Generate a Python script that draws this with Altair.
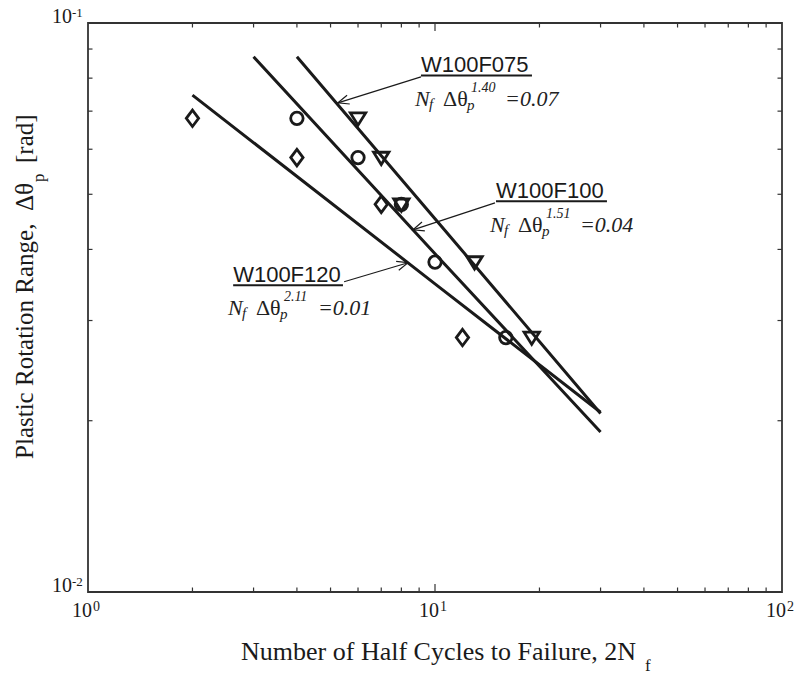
import altair as alt
import pandas as pd

# ---------------- data ----------------
specimens = ["W100F120", "W100F100", "W100F075"]

# test points (half cycles, plastic rotation range)
f120_x = [2, 4, 7, 12]
f120_y = [0.068, 0.058, 0.048, 0.028]
f100_x = [4, 6, 8, 10, 16]
f100_y = [0.068, 0.058, 0.048, 0.038, 0.028]
f075_x = [6, 7, 8, 13, 19]
f075_y = [0.068, 0.058, 0.048, 0.038, 0.028]

# fitted lines (read at their ends and middle)
fit120_x = [2, 10, 30]
fit120_y = [0.0747, 0.0348, 0.0207]
fit100_x = [3, 10, 30]
fit100_y = [0.0872, 0.0393, 0.0191]
fit075_x = [4, 10, 30]
fit075_y = [0.0872, 0.0453, 0.0206]

exponents = ["2.11", "1.51", "1.40"]
constants = ["=0.01", "=0.04", "=0.07"]

# annotation anchors in data coordinates
label_x = [2.62, 14.99, 9.11]
label_y = [0.0351, 0.0493, 0.0820]
underline_x2 = [5.43, 31.3, 19.03]
underline_y = [0.0346, 0.0486, 0.0809]
formula_x = [2.53, 14.4, 8.76]
formula_y = [0.0307, 0.0429, 0.0715]
arrow_tail_x = [5.47, 14.89, 9.11]
arrow_tail_y = [0.0351, 0.0483, 0.0804]
arrow_tip_x = [8.36, 8.64, 5.25]
arrow_tip_y = [0.0379, 0.0433, 0.0724]
arrow_angle = [163.5, 342, 343]

# ticks and tick labels
x_minor = [2, 3, 4, 5, 6, 7, 8, 9, 20, 30, 40, 50, 60, 70, 80, 90]
x_major = [10]
y_minor = [0.02, 0.03, 0.04, 0.05, 0.06, 0.07, 0.08, 0.09]
x_label_vals = [1, 10, 100]
x_label_exp = ["0", "1", "2"]
y_label_vals = [0.1, 0.01]
y_label_exp = ["-1", "-2"]

# ---------------- styling ----------------
W, H = 694, 569
SERIF = "Liberation Serif"
SANS = "Liberation Sans"
INK = "#1a1a1a"

xs = alt.Scale(type="log", domain=[1, 100], nice=False)
ys = alt.Scale(type="log", domain=[0.01, 0.1], nice=False)


def X(f):
    return alt.X(f + ":Q", scale=xs, axis=None)


def Y(f):
    return alt.Y(f + ":Q", scale=ys, axis=None)


def X2(f):
    return alt.X2(f + ":Q")


def Y2(f):
    return alt.Y2(f + ":Q")


pts = pd.DataFrame({
    "spec": [specimens[0]] * len(f120_x) + [specimens[1]] * len(f100_x) + [specimens[2]] * len(f075_x),
    "x": f120_x + f100_x + f075_x,
    "y": f120_y + f100_y + f075_y,
})
fits = pd.DataFrame({
    "spec": [specimens[0]] * 3 + [specimens[1]] * 3 + [specimens[2]] * 3,
    "x": fit120_x + fit100_x + fit075_x,
    "y": fit120_y + fit100_y + fit075_y,
})
ann = pd.DataFrame({
    "spec": specimens, "exp": exponents, "const": constants,
    "lx": label_x, "ly": label_y, "ux2": underline_x2, "uy": underline_y,
    "fx": formula_x, "fy": formula_y,
    "tx": arrow_tail_x, "ty": arrow_tail_y, "hx": arrow_tip_x, "hy": arrow_tip_y,
    "ang": arrow_angle,
})

diamond = "M0,-1L0.75,0L0,1L-0.75,0Z"
tri_down = "M-1,-0.7L1,-0.7L0,0.9Z"
arrow_head = "M1,-0.42L0,0L1,0.42"
marker_shapes = [diamond, "circle", tri_down]
marker_sizes = [270, 155, 235]

lines = alt.Chart(fits).mark_line(color=INK, strokeWidth=3).encode(
    x=X("x"), y=Y("y"), detail="spec:N")

point_layers = [
    alt.Chart(pts).transform_filter(alt.datum.spec == s).mark_point(
        shape=shp, size=sz, filled=False, color=INK, strokeWidth=2.8, opacity=1
    ).encode(x=X("x"), y=Y("y"))
    for s, shp, sz in zip(specimens, marker_shapes, marker_sizes)
]

# ticks (inward)
dxm = pd.DataFrame({"v": x_minor})
dxM = pd.DataFrame({"v": x_major})
dym = pd.DataFrame({"v": y_minor})
tick_style = dict(color="#333", strokeWidth=1.2)
ticks = [
    alt.Chart(dxm).mark_rule(**tick_style).encode(x=X("v"), y=alt.value(H), y2=alt.value(H - 4.5)),
    alt.Chart(dxm).mark_rule(**tick_style).encode(x=X("v"), y=alt.value(0), y2=alt.value(4.5)),
    alt.Chart(dxM).mark_rule(**tick_style).encode(x=X("v"), y=alt.value(H), y2=alt.value(H - 8)),
    alt.Chart(dxM).mark_rule(**tick_style).encode(x=X("v"), y=alt.value(0), y2=alt.value(8)),
    alt.Chart(dym).mark_rule(**tick_style).encode(y=Y("v"), x=alt.value(0), x2=alt.value(4.5)),
    alt.Chart(dym).mark_rule(**tick_style).encode(y=Y("v"), x=alt.value(W), x2=alt.value(W - 4.5)),
]

# tick labels
dxl = pd.DataFrame({"v": x_label_vals, "e": x_label_exp})
dyl = pd.DataFrame({"v": y_label_vals, "e": y_label_exp})
tick_labels = [
    alt.Chart(dxl).mark_text(text="10", font=SERIF, fontSize=20, color=INK, align="right",
                             baseline="alphabetic", dx=4).encode(x=X("v"), y=alt.value(H + 25)),
    alt.Chart(dxl).mark_text(font=SERIF, fontSize=14, color=INK, align="left",
                             baseline="alphabetic", dx=5).encode(x=X("v"), y=alt.value(H + 19), text="e:N"),
    alt.Chart(dyl).mark_text(text="10", font=SERIF, fontSize=20, color=INK, align="right",
                             baseline="alphabetic").encode(x=alt.value(-16), y=Y("v")),
    alt.Chart(dyl).mark_text(font=SERIF, fontSize=13, color=INK, align="left",
                             baseline="alphabetic", dy=-6).encode(x=alt.value(-16), y=Y("v"), text="e:N"),
]

# axis titles
one = pd.DataFrame({"a": [0]})
titles = [
    alt.Chart(one).mark_text(text="Number of Half Cycles to Failure, 2N", font=SERIF, fontSize=26,
                             color=INK, align="right", baseline="alphabetic").encode(
        x=alt.value(548), y=alt.value(637)),
    alt.Chart(one).mark_text(text="f", font=SERIF, fontSize=17, color=INK, align="left",
                             baseline="alphabetic").encode(x=alt.value(557), y=alt.value(648)),
    alt.Chart(one).mark_text(text="Plastic Rotation Range,\u00a0 \u0394\u03b8", font=SERIF, fontSize=25,
                             color=INK, align="right", baseline="alphabetic", angle=270).encode(
        x=alt.value(-55), y=alt.value(160)),
    alt.Chart(one).mark_text(text="p", font=SERIF, fontSize=17, color=INK, align="left",
                             baseline="alphabetic", angle=270).encode(x=alt.value(-44), y=alt.value(159)),
    alt.Chart(one).mark_text(text="[rad]", font=SERIF, fontSize=25, color=INK, align="left",
                             baseline="alphabetic", angle=270).encode(x=alt.value(-55), y=alt.value(140)),
]

# annotations
fbase = alt.Chart(ann).encode(x=X("fx"), y=Y("fy"))
it = dict(font=SERIF, fontStyle="italic", color="#222", align="left", baseline="alphabetic")
up = dict(font=SERIF, color="#222", align="left", baseline="alphabetic")
annotations = [
    alt.Chart(ann).mark_text(font=SANS, fontSize=22, color=INK, align="left", baseline="alphabetic").encode(
        x=X("lx"), y=Y("ly"), text="spec:N"),
    alt.Chart(ann).mark_rule(color=INK, strokeWidth=2).encode(x=X("lx"), x2=X2("ux2"), y=Y("uy")),
    alt.Chart(ann).mark_rule(color=INK, strokeWidth=1.2).encode(
        x=X("tx"), y=Y("ty"), x2=X2("hx"), y2=Y2("hy")),
    alt.Chart(ann).mark_point(shape=arrow_head, size=484, filled=False, color=INK,
                              strokeWidth=1.2, opacity=1).encode(
        x=X("hx"), y=Y("hy"), angle=alt.Angle("ang:Q", scale=None)),
    fbase.mark_text(text="N", fontSize=22, **it),
    fbase.mark_text(text="f", fontSize=15, dx=14, dy=3, **it),
    fbase.mark_text(text="\u0394\u03b8", fontSize=22, dx=28, **up),
    fbase.mark_text(text="p", fontSize=15, dx=52, dy=4, **it),
    fbase.mark_text(fontSize=14, dx=56, dy=-14, **it).encode(text="exp:N"),
    fbase.mark_text(fontSize=22, dx=90, **it).encode(text="const:N"),
]

chart = alt.layer(lines, *point_layers, *ticks, *tick_labels, *titles, *annotations).properties(
    width=W, height=H,
    autosize=alt.AutoSizeParams(type="none"),
    padding={"left": 80, "top": 15, "right": 12, "bottom": 86},
).configure_view(stroke="#333", strokeWidth=1.8)

chart.save("out.html", embed_options={"renderer": "svg", "actions": False})
